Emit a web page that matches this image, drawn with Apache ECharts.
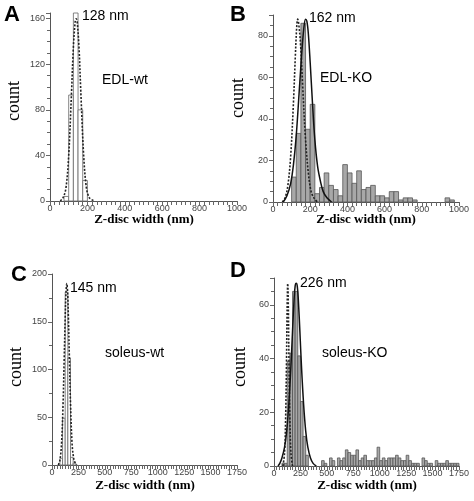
<!DOCTYPE html>
<html><head><meta charset="utf-8">
<script src="https://cdn.jsdelivr.net/npm/echarts@6/dist/echarts.min.js"></script>
<style>html,body{margin:0;padding:0;background:#fff}#c{width:474px;height:501px}</style>
</head><body><div id="c"></div>
<script>
// ---- data ----
const BIN = 25; // histogram bin width (nm)

// Panel A: EDL-wt
const edlWtBins   = [75, 100, 125, 150, 175];
const edlWtCounts = [4, 93, 165, 80, 18];
const edlWtFitX = [55, 70, 85, 100, 115, 125, 135, 140, 145, 155, 165, 180, 195, 210, 225, 240];
const edlWtFitY = [0, 3, 11, 40, 95, 135, 158, 160, 158, 135, 95, 40, 11, 3, 1, 0];

// Panel B: EDL-KO
const edlKoBins   = [100,125,150,175,200,225,250,275,300,325,350,375,400,425,450,475,500,525,550,575,600,625,650,675,700,725,750,925,950];
const edlKoCounts = [12, 33, 86, 35, 47, 4, 7, 14, 8, 6, 3, 18, 14, 9, 15, 6, 7, 8, 3, 3, 2, 5, 5, 1, 2, 2, 1, 2, 1];
const edlKoWtFitX = [50, 65, 80, 95, 110, 120, 128, 133, 138, 148, 160, 175, 190, 205, 220, 238];
const edlKoWtFitY = [0, 2, 8, 22, 48, 70, 85, 88, 86, 76, 55, 30, 14, 5, 2, 0];
const edlKoFitX = [55, 75, 95, 110, 125, 140, 155, 165, 175, 182, 190, 200, 212, 225, 240, 255, 270, 290, 315];
const edlKoFitY = [0, 3, 9, 18, 32, 52, 72, 83, 88, 87, 81, 67, 48, 30, 17, 10, 5, 2, 0];

// Panel C: soleus-wt
const solWtBins   = [75, 100, 125, 150, 175, 200];
const solWtCounts = [7, 49, 181, 112, 8, 2];
const solWtFitX = [60, 75, 90, 105, 115, 125, 132, 140, 148, 155, 165, 175, 190, 205, 220, 235];
const solWtFitY = [0, 5, 22, 65, 110, 155, 180, 190, 180, 155, 110, 65, 22, 7, 2, 0];

// Panel D: soleus-KO
const solKoBins = [75,100,125,150,175,200,225,250,275,300,
  450,475,525,550,600,625,650,675,700,725,750,775,800,825,850,875,900,925,950,975,
  1000,1025,1050,1075,1100,1125,1150,1175,1200,1225,1250,1275,1300,1325,1350,
  1400,1425,1450,1475,1525,1550,1575,1600,1625,1650,1675,1700,1725];
const solKoCounts = [1,1,39,42,65,65,41,24,11,4,
  2,1,3,2,3,2,3,6,5,4,4,6,2,3,4,2,2,2,3,7,
  2,3,2,3,3,3,4,3,2,2,4,2,1,1,1,
  3,2,1,1,2,1,1,1,2,1,1,1,1];
const solKoWtFitX = [85, 100, 110, 118, 124, 130, 136, 142, 150, 160, 175];
const solKoWtFitY = [0, 5, 18, 38, 58, 68, 58, 38, 18, 5, 0];
const solKoFitX = [38, 55, 75, 100, 120, 140, 160, 175, 190, 200, 210, 220, 230, 245, 260, 280, 300, 320, 345, 370, 400];
const solKoFitY = [0, 1, 3, 7, 13, 23, 37, 50, 62, 67, 68, 67, 62, 50, 37, 23, 13, 7, 3, 1, 0];

// annotations
const panelLetters = ['A', 'B', 'C', 'D'];
const peakLabels = ['128 nm', '162 nm', '145 nm', '226 nm'];
const sampleNames = ['EDL-wt', 'EDL-KO', 'soleus-wt', 'soleus-KO'];
const xTitle = 'Z-disc width (nm)';
const yTitle = 'count';

// ---- chart ----
const chart = echarts.init(document.getElementById('c'), null, {renderer: 'canvas'});

const grids = [
  {left: 50, top: 13, width: 187, height: 188},
  {left: 273, top: 15, width: 186, height: 187},
  {left: 52, top: 274, width: 185, height: 191},
  {left: 274, top: 278, width: 185, height: 188}
];
const xCfg = [[1000, 200, 8], [1000, 200, 8], [1750, 250, 10], [1750, 250, 10]];
const yCfg = [[165, 40, 4], [90, 20, 4], [200, 50, 2], [70, 20, 4]];

const axisColor = '#555';
const tickColor = '#666';
function xAxis(i) {
  const [max, interval, minor] = xCfg[i];
  return {
    type: 'value', gridIndex: i, min: 0, max, interval,
    axisLine: {show: true, onZero: false, lineStyle: {color: axisColor, width: 1}},
    axisTick: {show: true, length: 4, lineStyle: {color: tickColor, width: 1}},
    minorTick: {show: true, splitNumber: minor, length: 4, lineStyle: {color: tickColor, width: 1}},
    axisLabel: {fontFamily: 'Liberation Sans', fontSize: 9, color: '#444', margin: 3,
      formatter: v => String(v)},
    splitLine: {show: false}, minorSplitLine: {show: false}
  };
}
function yAxis(i) {
  const [max, interval, minor] = yCfg[i];
  return {
    type: 'value', gridIndex: i, min: 0, max, interval,
    axisLine: {show: true, onZero: false, lineStyle: {color: axisColor, width: 1}},
    axisTick: {show: true, length: 4, lineStyle: {color: tickColor, width: 1}},
    minorTick: {show: true, splitNumber: minor, length: 3, lineStyle: {color: tickColor, width: 1}},
    axisLabel: {fontFamily: 'Liberation Sans', fontSize: 9, color: '#444', margin: 5,
      formatter: v => (v % interval === 0 ? String(v) : '')},
    splitLine: {show: false}, minorSplitLine: {show: false}
  };
}

function hist(i, bins, counts, fill, stroke) {
  const data = [];
  bins.forEach((s, k) => { if (counts[k] > 0) data.push([s, s + BIN, counts[k]]); });
  return {
    type: 'custom', xAxisIndex: i, yAxisIndex: i, data, z: 2,
    encode: {x: [0, 1], y: 2},
    renderItem: (params, api) => {
      const p0 = api.coord([api.value(0), api.value(2)]);
      const p1 = api.coord([api.value(1), 0]);
      return {type: 'rect',
        shape: {x: p0[0], y: p0[1], width: p1[0] - p0[0], height: p1[1] - p0[1]},
        style: {fill, stroke, lineWidth: 0.8}};
    }
  };
}
function fit(i, xs, ys, dotted) {
  return {
    type: 'line', xAxisIndex: i, yAxisIndex: i, z: 3,
    data: xs.map((x, k) => [x, ys[k]]), smooth: 0.35, showSymbol: false, symbol: 'none',
    lineStyle: dotted ? {type: [2, 1.6], width: 1.6, color: '#222'} : {type: 'solid', width: 1.5, color: '#111'},
    silent: true, clip: true
  };
}

const white = '#ffffff', grey = '#a8a8a8', edgeW = '#666', edgeG = '#555';
const series = [
  hist(0, edlWtBins, edlWtCounts, white, edgeW),
  fit(0, edlWtFitX, edlWtFitY, true),
  hist(1, edlKoBins, edlKoCounts, grey, edgeG),
  fit(1, edlKoWtFitX, edlKoWtFitY, true),
  fit(1, edlKoFitX, edlKoFitY, false),
  hist(2, solWtBins, solWtCounts, white, edgeW),
  fit(2, solWtFitX, solWtFitY, true),
  hist(3, solKoBins, solKoCounts, grey, edgeG),
  fit(3, solKoWtFitX, solKoWtFitY, true),
  fit(3, solKoFitX, solKoFitY, false)
];

// text placement
const letterPos = [[12, 15], [238, 15], [19, 275], [238, 271]];
const peakPos = [[82, 16], [309, 18], [70, 288], [300, 283]];
const namePos = [[102, 80], [320, 78], [105, 353], [322, 353]];
const countPos = [[14, 101], [238, 98], [16, 367], [240, 367]];
const xTitlePos = [[144, 220], [366, 220], [145, 486], [367, 486]];

const graphic = [];
for (let i = 0; i < 4; i++) {
  graphic.push({type: 'text', x: letterPos[i][0], y: letterPos[i][1],
    style: {text: panelLetters[i], fontFamily: 'Liberation Sans', fontWeight: 'bold', fontSize: 22,
      fill: '#000', align: 'center', verticalAlign: 'middle'}});
  graphic.push({type: 'text', x: peakPos[i][0], y: peakPos[i][1], z: 10,
    style: {text: peakLabels[i], fontFamily: 'Liberation Sans', fontSize: 14,
      fill: '#000', align: 'left', verticalAlign: 'middle'}});
  graphic.push({type: 'text', x: namePos[i][0], y: namePos[i][1],
    style: {text: sampleNames[i], fontFamily: 'Liberation Sans', fontSize: 14,
      fill: '#000', align: 'left', verticalAlign: 'middle'}});
  graphic.push({type: 'text', x: countPos[i][0], y: countPos[i][1], rotation: Math.PI / 2,
    style: {text: yTitle, fontFamily: 'Liberation Serif', fontSize: 18,
      fill: '#000', align: 'center', verticalAlign: 'middle'}});
  graphic.push({type: 'text', x: xTitlePos[i][0], y: xTitlePos[i][1],
    style: {text: xTitle, fontFamily: 'Liberation Serif', fontWeight: 'bold', fontSize: 13,
      fill: '#000', align: 'center', verticalAlign: 'middle'}});
}

chart.setOption({
  animation: false,
  backgroundColor: '#fff',
  grid: grids,
  xAxis: [0, 1, 2, 3].map(xAxis),
  yAxis: [0, 1, 2, 3].map(yAxis),
  series,
  graphic
});
</script>
</body></html>
